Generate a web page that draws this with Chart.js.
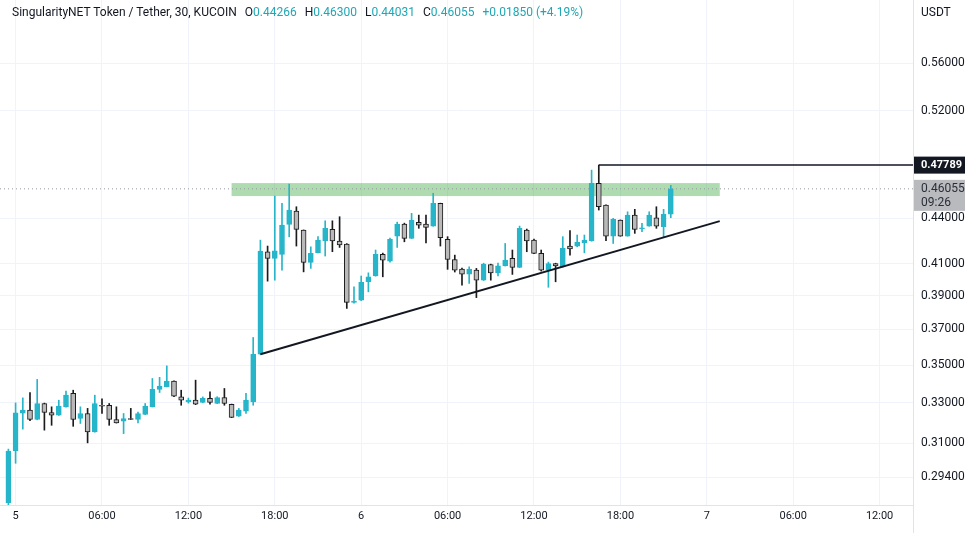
<!DOCTYPE html>
<html>
<head>
<meta charset="utf-8">
<title>SingularityNET Token / Tether, 30, KUCOIN</title>
<script src="https://cdn.jsdelivr.net/npm/chart.js@4.4.1/dist/chart.umd.min.js"></script>
<style>
  html, body { margin: 0; padding: 0; background: #fff; }
  #wrap { position: relative; width: 977px; height: 533px; }
  #hdr { position: absolute; left: 12px; top: 5px; font: 12px Roboto, sans-serif; color: #131722; white-space: nowrap; }
  #hdr .v { color: #1fa7b5; }
  #hdr .gap { display: inline-block; width: 8px; }
  #unit { position: absolute; left: 921px; top: 5px; font: 12px Roboto, sans-serif; color: #131722; }
</style>
</head>
<body>
<div id="wrap">
  <canvas id="chart" width="977" height="533"></canvas>
  <div id="hdr">SingularityNET Token / Tether, 30, KUCOIN<span class="gap"></span>O<span class="v">0.44266</span><span class="gap"></span>H<span class="v">0.46300</span><span class="gap"></span>L<span class="v">0.44031</span><span class="gap"></span>C<span class="v">0.46055</span><span class="gap"></span><span class="v">+0.01850 (+4.19%)</span></div>
  <div id="unit">USDT</div>
</div>
<script>
// ============================================
// AGI/USDT 30m candles
// ============================================

// candles are 30 min apart, first one at 23:30 on the 4th (hour -0.5)
const firstHour = -0.5;
const stepHours = 0.5;

const opens = [
  0.2825, 0.3062, 0.3248, 0.3263, 0.3216, 0.3297, 0.3251, 0.3237, 0.3280, 0.3349,
  0.3221, 0.3246, 0.3154, 0.3288, 0.3288, 0.3216, 0.3208, 0.3221, 0.3216, 0.3241,
  0.3280, 0.3370, 0.3384, 0.3414, 0.3331, 0.3305, 0.3314, 0.3302, 0.3323, 0.3297,
  0.3328, 0.3293, 0.3232, 0.3258, 0.3305, 0.3560, 0.4176, 0.4133, 0.4159, 0.4357,
  0.4449, 0.4319, 0.4107, 0.4169, 0.4246, 0.4324, 0.4246, 0.4226, 0.3859, 0.3873,
  0.3985, 0.4021, 0.4159, 0.4115, 0.4279, 0.4359, 0.4264, 0.4371, 0.4359, 0.4346,
  0.4502, 0.4257, 0.4126, 0.4064, 0.4032, 0.4058, 0.3995, 0.4094, 0.4041, 0.4085,
  0.4133, 0.4075, 0.4319, 0.4252, 0.4165, 0.4058, 0.4100, 0.4079, 0.4213, 0.4213,
  0.4233, 0.4246, 0.4645, 0.4491, 0.4279, 0.4387, 0.4279, 0.4421, 0.4328, 0.4346,
  0.4403, 0.4342, 0.44266
];
const highs = [
  0.3071, 0.3300, 0.3326, 0.3354, 0.3423, 0.3299, 0.3280, 0.3314, 0.3361, 0.3366,
  0.3280, 0.3272, 0.3340, 0.3321, 0.3297, 0.3280, 0.3246, 0.3272, 0.3253, 0.3297,
  0.3428, 0.3434, 0.3496, 0.3416, 0.3366, 0.3325, 0.3419, 0.3331, 0.3357, 0.3332,
  0.3375, 0.3294, 0.3272, 0.3349, 0.3654, 0.4252, 0.4213, 0.4554, 0.4502, 0.4640,
  0.4479, 0.4320, 0.4208, 0.4275, 0.4382, 0.4382, 0.4410, 0.4229, 0.3954, 0.4021,
  0.4041, 0.4187, 0.4167, 0.4265, 0.4373, 0.4366, 0.4433, 0.4421, 0.4421, 0.4574,
  0.4504, 0.4275, 0.4154, 0.4071, 0.4079, 0.4069, 0.4102, 0.4096, 0.4102, 0.4230,
  0.4187, 0.4346, 0.4326, 0.4259, 0.4187, 0.4109, 0.4102, 0.4275, 0.4315, 0.4286,
  0.4286, 0.4742, 0.47789, 0.4492, 0.4399, 0.4388, 0.4444, 0.4461, 0.4364, 0.4444,
  0.4479, 0.4461, 0.46300
];
const lows = [
  0.2810, 0.3004, 0.3168, 0.3210, 0.3214, 0.3163, 0.3187, 0.3236, 0.3278, 0.3182,
  0.3196, 0.3101, 0.3153, 0.3246, 0.3187, 0.3198, 0.3146, 0.3215, 0.3199, 0.3240,
  0.3279, 0.3354, 0.3383, 0.3332, 0.3288, 0.3299, 0.3291, 0.3301, 0.3293, 0.3296,
  0.3288, 0.3225, 0.3231, 0.3246, 0.3288, 0.3559, 0.3989, 0.3995, 0.4058, 0.4274,
  0.4213, 0.4047, 0.4069, 0.4168, 0.4148, 0.4176, 0.4204, 0.3823, 0.3855, 0.3870,
  0.3923, 0.4020, 0.4016, 0.4109, 0.4204, 0.4241, 0.4263, 0.4331, 0.4234, 0.4345,
  0.4213, 0.4063, 0.4046, 0.3964, 0.3975, 0.3888, 0.3993, 0.3995, 0.4021, 0.4084,
  0.4031, 0.4074, 0.4176, 0.4164, 0.4052, 0.3951, 0.3985, 0.4077, 0.4154, 0.4208,
  0.4169, 0.4245, 0.4456, 0.4248, 0.4230, 0.4278, 0.4278, 0.4297, 0.4308, 0.4345,
  0.4331, 0.4270, 0.44031
];
const closes = [
  0.3061, 0.3249, 0.3263, 0.3216, 0.3297, 0.3251, 0.3237, 0.3284, 0.3340, 0.3216,
  0.3246, 0.3154, 0.3297, 0.3283, 0.3216, 0.3199, 0.3221, 0.3216, 0.3246, 0.3284,
  0.3370, 0.3387, 0.3414, 0.3335, 0.3314, 0.3314, 0.3293, 0.3323, 0.3302, 0.3328,
  0.3297, 0.3226, 0.3263, 0.3314, 0.3560, 0.4180, 0.4133, 0.4182, 0.4353, 0.4456,
  0.4324, 0.4107, 0.4165, 0.4252, 0.4331, 0.4246, 0.4220, 0.3859, 0.3867, 0.3982,
  0.4016, 0.4159, 0.4122, 0.4257, 0.4359, 0.4264, 0.4387, 0.4353, 0.4337, 0.4502,
  0.4268, 0.4126, 0.4058, 0.4032, 0.4064, 0.3995, 0.4096, 0.4041, 0.4085, 0.4122,
  0.4075, 0.4331, 0.4246, 0.4165, 0.4058, 0.4100, 0.4085, 0.4198, 0.4195, 0.4237,
  0.4252, 0.4645, 0.4479, 0.4279, 0.4392, 0.4279, 0.4421, 0.4324, 0.4335, 0.4421,
  0.4346, 0.44266, 0.46055
];

// axis ticks
const timeTicks = [0, 6, 12, 18, 24, 30, 36, 42, 48, 54, 60];
const timeLabels = ['5', '06:00', '12:00', '18:00', '6', '06:00', '12:00', '18:00', '7', '06:00', '12:00'];
const priceTicks = [0.294, 0.31, 0.33, 0.35, 0.37, 0.39, 0.41, 0.44, 0.52, 0.56];

// drawings
const bandHours = [15.0, 48.9];
const bandPrices = [0.4554, 0.4647];
const trendHours = [17.0, 48.9];
const trendPrices = [0.3560, 0.4380];
const markHigh = 0.47789;
const markHighHour = 40.5;
const lastPrice = 0.46055;
const countdown = '09:26';

const UP = '#26b5c9';
const DOWN = '#b9b9b9';
const DOWN_LINE = '#1b1b1b';
const X_MIN = -1.083, X_MAX = 62.32;
const Y_MIN = 0.2815, Y_MAX = 0.618;

const hours = opens.map((_, i) => firstHour + i * stepHours);
const isUp = opens.map((o, i) => closes[i] >= o);

const bodies = hours.map((h, i) => ({ x: h, y: [opens[i], closes[i]] }));
const wicks = hours.map((h, i) => ({ x: h, y: [lows[i], highs[i]] }));

const overlay = {
  id: 'overlay',
  beforeDatasetsDraw(chart) {
    const { ctx, chartArea: a, scales: { x, y } } = chart;
    ctx.save();
    ctx.beginPath();
    ctx.rect(a.left, a.top, a.width, a.height);
    ctx.clip();
    const x0 = x.getPixelForValue(bandHours[0]);
    const x1 = x.getPixelForValue(bandHours[1]);
    const y0 = y.getPixelForValue(bandPrices[1]);
    const y1 = y.getPixelForValue(bandPrices[0]);
    ctx.fillStyle = 'rgba(76,175,80,0.45)';
    ctx.fillRect(x0, y0, x1 - x0, y1 - y0);
    ctx.restore();
  },
  afterDraw(chart) {
    const { ctx, chartArea: a, scales: { y } } = chart;
    ctx.save();
    // axis separator
    ctx.strokeStyle = '#e0e3eb';
    ctx.lineWidth = 1;
    ctx.beginPath();
    ctx.moveTo(a.right + 0.5, 0);
    ctx.lineTo(a.right + 0.5, 533);
    ctx.stroke();

    ctx.textBaseline = 'middle';
    ctx.textAlign = 'left';
    const yHi = y.getPixelForValue(markHigh);
    ctx.fillStyle = '#131722';
    ctx.fillRect(a.right + 1, yHi - 8.5, 51, 17);
    ctx.fillStyle = '#ffffff';
    ctx.font = 'bold 11px Roboto';
    ctx.fillText(markHigh.toFixed(5), a.right + 8, yHi + 0.5);

    const yLast = y.getPixelForValue(lastPrice);
    ctx.fillStyle = '#b9babe';
    ctx.fillRect(a.right + 1, yLast - 9, 51, 31);
    ctx.fillStyle = '#2a2e39';
    ctx.font = '12px Roboto';
    ctx.fillText(lastPrice.toFixed(5), a.right + 8, yLast);
    ctx.fillText(countdown, a.right + 8, yLast + 14);
    ctx.restore();
  }
};

new Chart(document.getElementById('chart').getContext('2d'), {
  type: 'bar',
  data: {
    datasets: [
      {
        type: 'line', label: 'trend', order: 0,
        data: trendHours.map((h, i) => ({ x: h, y: trendPrices[i] })),
        borderColor: '#131722', borderWidth: 2, pointRadius: 0
      },
      {
        type: 'line', label: 'high', order: 0,
        data: [{ x: markHighHour, y: markHigh }, { x: X_MAX, y: markHigh }],
        borderColor: '#131722', borderWidth: 1.5, pointRadius: 0
      },
      {
        label: 'body', order: 1, grouped: false,
        data: bodies, barThickness: 5, minBarLength: 1,
        backgroundColor: isUp.map(u => u ? UP : DOWN),
        borderColor: isUp.map(u => u ? UP : DOWN_LINE),
        borderWidth: 1, borderSkipped: false
      },
      {
        label: 'wick', order: 2, grouped: false,
        data: wicks, barThickness: 1,
        backgroundColor: isUp.map(u => u ? UP : DOWN_LINE),
        borderWidth: 0
      },
      {
        type: 'line', label: 'last', order: 3,
        data: [{ x: X_MIN, y: lastPrice }, { x: X_MAX, y: lastPrice }],
        borderColor: '#9598a1', borderWidth: 1, borderDash: [1, 3], pointRadius: 0
      }
    ]
  },
  options: {
    responsive: false,
    animation: false,
    layout: { padding: 0 },
    plugins: { legend: { display: false }, tooltip: { enabled: false } },
    scales: {
      x: {
        type: 'linear', position: 'bottom', min: X_MIN, max: X_MAX, offset: false,
        grid: { color: '#f0f3fa', drawTicks: false, offset: false },
        border: { color: '#e0e3eb' },
        afterBuildTicks: s => { s.ticks = timeTicks.map(v => ({ value: v })); },
        afterFit: s => { s.height = 28; s.paddingLeft = 0; s.paddingRight = 0; },
        ticks: {
          color: '#131722', font: { size: 11, family: 'Roboto' }, padding: 5,
          maxRotation: 0, autoSkip: false,
          callback: v => timeLabels[timeTicks.indexOf(v)]
        }
      },
      y: {
        type: 'logarithmic', position: 'right', min: Y_MIN, max: Y_MAX, bounds: 'data',
        grid: { color: '#f0f3fa', drawTicks: false },
        border: { display: false },
        afterBuildTicks: s => {
          s.ticks = priceTicks.map(v => ({ value: v }));
          s.min = Y_MIN;
          s.max = Y_MAX;
        },
        afterFit: s => { s.width = 64; s.paddingTop = 0; s.paddingBottom = 0; },
        ticks: {
          color: '#131722', font: { size: 12, family: 'Roboto' }, padding: 8,
          crossAlign: 'near',
          callback: v => Number(v).toFixed(5)
        }
      }
    }
  },
  plugins: [overlay]
});
</script>
</body>
</html>
